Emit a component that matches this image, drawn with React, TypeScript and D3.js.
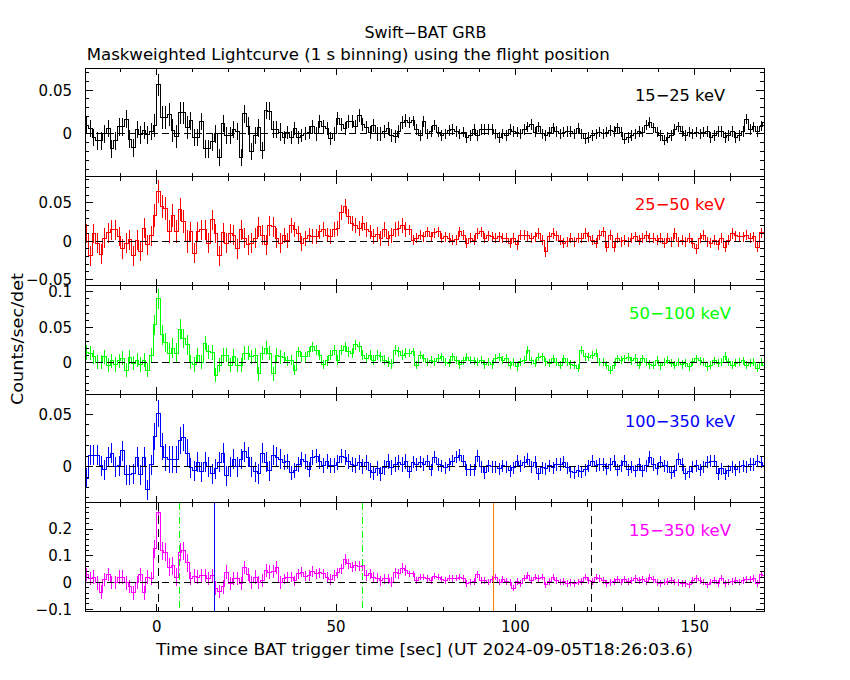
import React from "react";
import * as d3 from "d3";

// ---------- DATA ----------
const T_START = -20; // first bin start (s)
const bandLabels = ["15−25 keV", "25−50 keV", "50−100 keV", "100−350 keV", "15−350 keV"];
const bandColors = ["#000000", "#ff0000", "#00ff00", "#0000ff", "#ff00ff"];

const rate15_25 = [
  0.010, 0.006, -0.004, -0.008, -0.008, 0, 0.006, -0.017, -0.008, 0.008, 0.008, 0.017, -0.006, -0.016, 0.005, -0.001, 0.004, -0.001, 0.003, 0.010,
  0.056, 0.019, 0.019, 0.022, 0.004, -0.003, 0.024, 0.024, 0.007, 0.015, -0.004, -0.004, 0.014, -0.017, -0.017, -0.009, 0, -0.027, 0.012, -0.002,
  -0.002, 0.005, 0.003, -0.027, 0.023, 0.009, -0.020, -0.002, 0.007, -0.019, 0.027, 0.026, 0.005, 0.005, 0.002, -0.004, 0.002, -0.004, 0.006, -0.004,
  -0.002, 0.001, 0.002, 0.008, 0, 0.014, 0.008, 0.006, -0.005, 0, 0.018, 0.011, 0.006, 0.014, 0.014, 0.008, 0.021, 0.011, 0.007, 0.002,
  0.010, 0, 0, 0.003, 0.006, -0.002, -0.003, 0.003, 0.013, 0.015, 0.013, 0.015, 0.005, -0.002, 0.014,
  0, 0.003, 0.010, 0.002, -0.002, 0, 0.004, 0.005, 0.003, 0,
  0.002, -0.004, -0.002, 0.005, -0.002, 0.005, 0.005, 0.005, 0.005, 0,
  -0.004, 0, -0.002, 0.005, 0.003, 0.002, 0, 0.005, 0.008, 0.011,
  0.002, 0.008, 0, -0.002, 0.002, 0.007, 0.003, 0, 0.002, 0.003,
  0.003, 0, 0.006, 0, -0.005, -0.004, -0.002, 0, 0.002, 0,
  0.002, 0.004, 0.003, 0.007, 0.002, -0.006, -0.004, -0.002, 0, 0.003, 0.002, 0.010, 0.013, 0.007, 0.002, -0.002, -0.007, -0.004, -0.002, 0.005,
  0.008, 0.003, -0.002, 0.002, 0, 0.002, 0, 0.002, 0.003, -0.004,
  -0.002, 0.003, 0.003, -0.004, -0.002, 0.003, -0.004, -0.002, 0.003, 0.017,
  0.005, 0.008, 0.003, 0.009, 0.013,
];

const rate25_50 = [
  0.010, -0.019, 0.010, -0.003, -0.017, 0.004, 0.011, 0.015, 0.015, 0.006, -0.010, -0.003, 0.002, -0.019, 0.001, -0.013, 0.017, -0.005, 0.007, 0.034,
  0.065, 0.045, 0.043, 0.012, 0.033, 0.012, 0.041, 0.026, -0.001, 0.012, -0.016, 0.012, 0.015, 0.015, -0.003, 0.028, 0.010, -0.019, 0.011, -0.003,
  0.010, 0.008, -0.010, 0.015, 0.004, -0.005, -0.003, 0.004, 0.019, 0.008, -0.005, 0.020, 0.019, 0.004, -0.003, 0.007, 0.001, 0.021, 0.015, 0.010,
  -0.003, 0.004, 0.008, 0.006, 0.006, 0.012, 0.015, 0.008, 0.006, 0.015, 0.017, 0.037, 0.045, 0.032, 0.023, 0.021, 0.017, 0.023, 0.015, 0.012,
  0.006, 0.009, 0.004, 0.015, 0.004, 0.007, 0.015, 0.017, 0.021, 0.015, 0.015, 0.001, 0.004, 0.008, 0.006, 0.012, 0.006, 0.011, 0.012, 0.004,
  0.006, 0.004, 0.001, 0.002, 0.012, 0.008, -0.003, 0.004, 0.001, 0.010, 0.012, 0.004, 0.007, 0.006, 0.004, 0.006, 0.004, 0.004, -0.003, 0.004,
  -0.005, 0.008, 0.008, 0.007, 0.004, 0.006, 0.010, 0.001, -0.014, 0.006, 0.010, 0.007, 0.001, -0.003, -0.001, 0.004, -0.001, 0.004, 0.004, 0.010,
  0.006, 0.001, -0.003, 0.008, 0.012, -0.008, 0.008, -0.008, 0.004, -0.001, 0.001, -0.001, 0.004, 0.006, 0.001, 0.004, 0.007, 0.004, 0.004, 0.001,
  0.004, -0.003, 0.004, -0.001, 0.010, -0.001, 0.001, -0.001, 0.004, -0.003, -0.010, 0.004, 0.008, -0.001, -0.003, 0.001, -0.005, 0.004, -0.008, 0.001,
  0.010, 0.007, 0.006, 0.006, 0.008, 0.004, 0.006, -0.008, 0.011, 0.011,
];

const rate50_100 = [
  0.014, 0.013, 0.008, 0, 0, 0.008, -0.004, 0.002, -0.003, 0.002, 0.006, -0.011, 0.007, -0.001, 0.003, -0.003, 0.003, -0.011, 0.010, 0.053,
  0.090, 0.039, 0.028, 0.013, 0.020, 0.013, 0.047, 0.034, 0.025, 0, -0.003, 0.010, 0, 0.027, 0.015, 0.014, -0.018, -0.004, 0.010, 0.010,
  -0.004, 0.009, -0.004, -0.004, 0.013, 0.013, 0.008, 0.010, -0.016, 0.013, 0.020, 0.013, -0.016, 0.010, 0.008, 0.007, 0.002, 0.003, -0.011, 0.015,
  0.008, 0.008, 0.015, 0.022, 0.017, 0.010, -0.003, 0.002, 0.010, 0.017, 0.003, 0.017, 0.022, 0.015, 0.013, 0.025, 0.022, 0.010, 0.006, 0.010,
  0.003, 0.010, 0.008, 0.003, 0.001, -0.002, 0.017, 0.015, 0.010, 0.013, 0.013, 0.015, -0.004, 0.010, 0.006, 0, 0.003, 0.001, 0.006, 0.008,
  0, -0.001, 0.008, 0.003, -0.003, 0.002, 0.007, 0.003, 0.002, 0, 0.003, -0.003, 0, -0.003, 0.006, 0.007, 0.003, 0.006, -0.004, 0,
  -0.006, 0.001, 0.003, 0.017, 0.002, -0.001, 0.007, 0.008, 0.001, -0.001, 0.005, 0, -0.004, 0.005, 0, -0.003, -0.004, -0.008, 0.017, 0.008,
  0.007, 0.010, 0.013, 0, 0, -0.004, -0.011, -0.004, 0.005, 0.003, 0.005, 0.007, 0.002, 0.006, -0.004, 0.005, 0, -0.003, -0.004, 0.003,
  -0.005, 0, 0.003, -0.001, -0.004, 0, -0.003, -0.001, -0.006, 0.001, 0.005, 0.002, 0, -0.006, -0.004, 0.002, -0.001, 0, 0.009, 0.001,
  -0.004, -0.001, 0, 0.002, -0.004, -0.001, 0, -0.008, 0, -0.004,
];

const rate100_350 = [
  -0.011, 0.011, 0.011, 0.011, 0.001, -0.003, 0.009, 0.013, 0, 0.001, 0.015, -0.008, -0.008, -0.007, 0.009, -0.008, 0.009, -0.022, 0.002, 0.029,
  0.051, 0.019, 0.009, 0.007, 0.007, 0.007, 0.025, 0.028, 0.013, -0.001, -0.004, 0.004, -0.005, 0.004, 0, -0.007, -0.002, 0.004, 0.013, -0.009,
  0, 0.007, 0, 0.007, 0.014, 0.009, 0, -0.005, -0.007, 0.013, 0.004, -0.004, 0.011, 0.009, 0.007, 0.004, 0.005, -0.006, -0.004, 0.002,
  0.007, 0.005, -0.003, 0.009, 0.010, 0.005, 0.001, 0.005, 0.001, 0.001, 0.004, 0.010, 0.009, 0.005, 0.002, 0.001, 0.004, 0, 0.004, -0.004,
  -0.006, -0.002, -0.007, -0.001, 0.005, -0.001, 0.002, 0.004, 0.002, 0.005, -0.005, 0.004, 0.002, 0.004, 0.002, 0.005, -0.003, 0.009, 0.002, 0.001,
  -0.001, 0.002, 0.005, 0.009, 0.011, 0.005, -0.003, -0.003, -0.003, 0.010, 0, -0.006, 0.001, 0, 0, -0.002, 0.001, 0, -0.004, -0.001,
  0.005, 0.001, 0.004, 0.007, 0, 0.004, -0.007, -0.001, -0.002, 0.001, -0.001, 0.002, 0.002, 0.004, -0.001, -0.005, -0.006, -0.004, -0.005, -0.003,
  0.001, 0.005, 0.001, 0.002, 0.002, -0.002, 0.002, 0.005, -0.003, 0.001, 0.005, -0.003, 0, -0.004, 0.002, -0.004, 0.001, 0.009, 0.002, -0.002,
  0.004, 0.001, 0, -0.006, -0.004, 0.007, 0.002, -0.007, -0.005, 0, 0.001, -0.003, 0, 0.004, 0.005, 0.005, -0.007, -0.002, -0.007, -0.004,
  0, -0.003, 0, 0.001, 0, 0.002, 0.002, 0.005, 0.004, 0.001,
];

const rate15_350 = [
  0.029, 0.014, 0.020, -0.002, -0.036, 0.011, 0.029, 0.001, 0.001, 0.020, 0.020, -0.002, -0.015, -0.039, 0.001, 0.029, -0.039, 0.020, 0.014, 0.126,
  0.262, 0.119, 0.113, 0.057, 0.063, 0.020, 0.113, 0.119, 0.073, 0.014, 0.024, 0.020, 0.026, 0.026, 0.014, 0.026, -0.021, -0.034, -0.017, 0.039,
  -0.005, 0.014, 0.014, -0.005, 0.057, 0.029, -0.001, 0.020, 0.001, 0.007, 0.045, 0.039, 0.041, 0.057, 0.001, 0.014, 0.020, 0.020, 0.007, 0.032,
  0.039, 0.024, 0.026, 0.041, 0.032, 0.036, 0.032, 0.020, 0.011, 0.026, 0.036, 0.051, 0.086, 0.070, 0.057, 0.063, 0.061, 0.063, 0.026, 0.032,
  0.020, 0.016, 0.007, 0.014, 0.014, 0.001, 0.036, 0.032, 0.053, 0.045, 0.032, 0.032, 0.007, 0.020, 0.020, 0.014, 0.007, 0.024, 0.020, 0.011,
  0.007, 0.016, 0.014, 0.016, 0.020, 0.014, -0.005, 0.001, 0.004, 0.029, 0.007, 0.007, 0.001, 0.011, 0.020, 0.001, 0.011, 0.004, -0.001, -0.021,
  0.004, -0.005, 0.016, 0.026, 0.007, 0.020, 0.014, 0.020, -0.009, 0.004, 0.020, 0.007, 0.001, 0.004, -0.005, -0.001, -0.005, 0.001, 0.004, 0.020,
  0.007, 0.004, 0.020, 0.014, 0.007, -0.005, -0.001, 0.004, 0.011, 0.001, 0.011, 0.004, 0.007, 0.014, 0.007, 0.011, 0.004, 0.020, 0.011, -0.001,
  -0.005, 0.001, 0.004, 0.007, 0.001, -0.001, -0.005, -0.005, -0.009, 0.007, 0.014, 0.007, 0.001, -0.009, 0.001, 0.007, -0.005, 0.016, -0.005, 0.001,
  0.004, 0.007, 0.001, 0.007, 0.011, 0.011, 0.014, -0.005, 0.029, 0.026,
];

const rates = [rate15_25, rate25_50, rate50_100, rate100_350, rate15_350];

// Typical 1-sigma error bar half-lengths read per phase of the light curve
const errBurst = [0.013, 0.015, 0.014, 0.013, 0.034];
const errEarly = [0.010, 0.013, 0.010, 0.0096, 0.025];
const errMid = [0.0075, 0.0097, 0.007, 0.007, 0.019];
const errLate = [0.006, 0.0066, 0.0057, 0.0058, 0.0124];

// Panel y ranges and tick steps
const yMin = [-0.049, -0.058, -0.045, -0.0346, -0.108];
const yMax = [0.075, 0.084, 0.109, 0.0695, 0.2985];
const yMajorStep = [0.05, 0.05, 0.05, 0.05, 0.1];
const yMinorStep = [0.01, 0.01, 0.01, 0.01, 0.02];

// x axis
const xMin = -20;
const xMax = 169.4;
const xMajorTicks = [0, 50, 100, 150];
const xMinorTicks = [-10, 10, 20, 30, 40, 60, 70, 80, 90, 110, 120, 130, 140, 160];

// marker lines in bottom panel
const markerTimes = [0.5, 121.3, 6.4, 57.3, 16.1, 93.9];
const markerColors = ["#000000", "#000000", "#00ff00", "#00ff00", "#0000ff", "#ff8000"];
const markerDash = ["8,5", "8,5", "7,3,1,3", "7,3,1,3", "", ""];

// ---------- layout ----------
const W = 850;
const H = 680;
const L = 85;
const R = 764.3;
const TOP = 68.3;
const PH = 108.6;
const FONT = "'DejaVu Sans', 'Liberation Sans', sans-serif";
const labelStart = [635, 635, 629, 625, 629];
const labelLen = [90, 90, 102, 110, 102];

function errFor(p: number, t: number) {
  if (t >= -1 && t < 9) return errBurst[p];
  if (t < 35) return errEarly[p];
  if (t < 70) return errMid[p];
  return errLate[p];
}

function fmt(v: number) {
  if (Math.abs(v) < 1e-9) return "0";
  return String(+v.toFixed(3)).replace("-", "−");
}

function stepTicks(min: number, max: number, step: number) {
  const k0 = Math.ceil(min / step - 1e-9);
  const k1 = Math.floor(max / step + 1e-9);
  return d3.range(k0, k1 + 1).map((k) => +(k * step).toFixed(6));
}

export default function App() {
  const x = d3.scaleLinear().domain([xMin, xMax]).range([L, R]);

  const panels = rates.map((vals, p) => {
    const top = TOP + p * PH;
    const bottom = top + PH;
    const y = d3.scaleLinear().domain([yMin[p], yMax[p]]).range([bottom, top]);
    const pts: [number, number][] = [];
    vals.forEach((v, i) => {
      const t = T_START + i;
      pts.push([t, v], [t + 1, v]);
    });
    const line = d3
      .line<[number, number]>()
      .x((d) => x(d[0]))
      .y((d) => y(d[1]));
    const majors = stepTicks(yMin[p], yMax[p], yMajorStep[p]);
    const minors = stepTicks(yMin[p], yMax[p], yMinorStep[p]).filter(
      (v) => !majors.some((m) => Math.abs(m - v) < 1e-9)
    );
    const color = bandColors[p];
    return (
      <g key={p}>
        <defs>
          <clipPath id={`clip${p}`}>
            <rect x={L} y={top} width={R - L} height={PH} />
          </clipPath>
        </defs>
        <g clipPath={`url(#clip${p})`} shapeRendering="crispEdges">
          <path d={line(pts) || ""} fill="none" stroke={color} strokeWidth={1} />
          {vals.map((v, i) => {
            const t = T_START + i + 0.5;
            const e = errFor(p, t);
            return (
              <line
                key={i}
                x1={x(t)}
                x2={x(t)}
                y1={y(v - e)}
                y2={y(v + e)}
                stroke={color}
                strokeWidth={1}
              />
            );
          })}
          <line
            x1={L}
            x2={R}
            y1={y(0)}
            y2={y(0)}
            stroke="#000"
            strokeWidth={1}
            strokeDasharray="7,4"
          />
          {p === 4 &&
            markerTimes.map((t, i) => (
              <line
                key={i}
                x1={x(t)}
                x2={x(t)}
                y1={top}
                y2={bottom}
                stroke={markerColors[i]}
                strokeWidth={1}
                strokeDasharray={markerDash[i] || undefined}
              />
            ))}
        </g>
        {/* frame */}
        <rect
          x={L}
          y={top}
          width={R - L}
          height={PH}
          fill="none"
          stroke="#000"
          strokeWidth={1}
          shapeRendering="crispEdges"
        />
        {/* y ticks */}
        <g stroke="#000" strokeWidth={1} shapeRendering="crispEdges">
          {majors.map((v) => (
            <g key={"M" + v}>
              <line x1={L} x2={L + 8} y1={y(v)} y2={y(v)} />
              <line x1={R} x2={R - 8} y1={y(v)} y2={y(v)} />
            </g>
          ))}
          {minors.map((v) => (
            <g key={"m" + v}>
              <line x1={L} x2={L + 4} y1={y(v)} y2={y(v)} />
              <line x1={R} x2={R - 4} y1={y(v)} y2={y(v)} />
            </g>
          ))}
          {xMajorTicks.map((t) => (
            <g key={"xM" + t}>
              <line x1={x(t)} x2={x(t)} y1={top} y2={top + 7} />
              <line x1={x(t)} x2={x(t)} y1={bottom} y2={bottom - 7} />
            </g>
          ))}
          {xMinorTicks.map((t) => (
            <g key={"xm" + t}>
              <line x1={x(t)} x2={x(t)} y1={top} y2={top + 4} />
              <line x1={x(t)} x2={x(t)} y1={bottom} y2={bottom - 4} />
            </g>
          ))}
        </g>
        {/* y tick labels */}
        {majors.map((v) => (
          <text
            key={"l" + v}
            x={72}
            y={y(v)}
            dy="0.36em"
            textAnchor="end"
            fontFamily={FONT}
            fontSize={15}
            fill="#000"
          >
            {fmt(v)}
          </text>
        ))}
        {/* band label */}
        <text
          x={labelStart[p]}
          y={top + 33}
          fontFamily={FONT}
          fontSize={16}
          fill={color}
          textLength={labelLen[p]}
          lengthAdjust="spacingAndGlyphs"
        >
          {bandLabels[p]}
        </text>
      </g>
    );
  });

  const bottom = TOP + 5 * PH;

  return (
    <svg
      width={W}
      height={H}
      style={{ position: "absolute", left: 0, top: 0, background: "#fff" }}
    >
      <rect x={0} y={0} width={W} height={H} fill="#fff" />
      <text
        x={364.5}
        y={38.3}
        fontFamily={FONT}
        fontSize={15}
        textLength={122}
        lengthAdjust="spacingAndGlyphs"
      >
        Swift−BAT GRB
      </text>
      <text
        x={86.7}
        y={60}
        fontFamily={FONT}
        fontSize={15}
        textLength={523}
        lengthAdjust="spacingAndGlyphs"
      >
        Maskweighted Lightcurve (1 s binning) using the flight position
      </text>
      {panels}
      {xMajorTicks.map((t) => (
        <text
          key={t}
          x={x(t)}
          y={631.7}
          textAnchor="middle"
          fontFamily={FONT}
          fontSize={15}
        >
          {t}
        </text>
      ))}
      <text
        x={156}
        y={655}
        fontFamily={FONT}
        fontSize={15}
        textLength={537}
        lengthAdjust="spacingAndGlyphs"
      >
        Time since BAT trigger time [sec] (UT 2024-09-05T18:26:03.6)
      </text>
      <text
        transform="translate(23,339) rotate(-90)"
        textAnchor="middle"
        fontFamily={FONT}
        fontSize={15}
        textLength={132}
        lengthAdjust="spacingAndGlyphs"
      >
        Counts/sec/det
      </text>
      <line x1={0} x2={0} y1={bottom} y2={bottom} stroke="none" />
    </svg>
  );
}
